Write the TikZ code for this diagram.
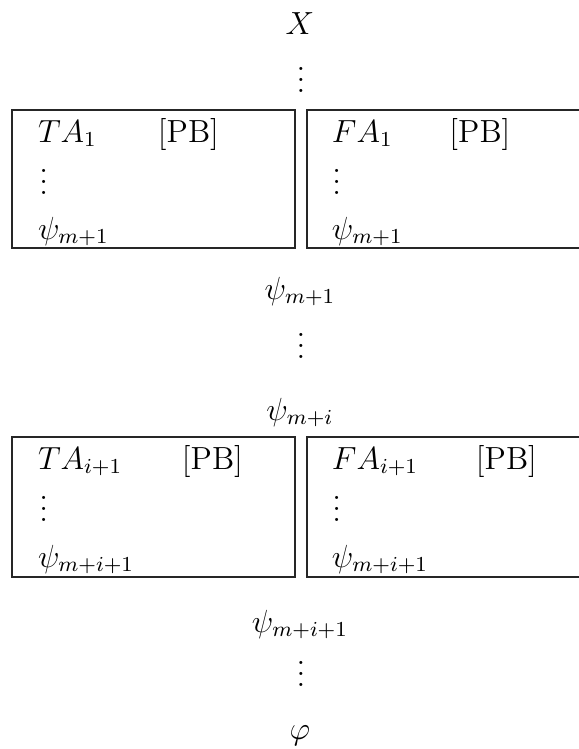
\documentclass[tikz,border=0pt]{standalone}
\newcommand{\tightvdots}{\vbox{\baselineskip4pt\lineskiplimit0pt\hbox{.}\hbox{.}\hbox{.}}}
\begin{document}
\begin{tikzpicture}[x=0.375pt, y=-0.375pt,
  every node/.style={inner sep=0pt, outer sep=0pt, font=\fontsize{12}{14.4}\selectfont},
  mid/.style={anchor=base},
  lft/.style={anchor=base west},
  frame/.style={draw=black!85, line width=0.45pt}]
\useasboundingbox (0,0) rectangle (579,749);
\clip (0,0) rectangle (579,749);
% top
\node[mid] (x) at (300,34) {$X$};
\node[mid] (d0) at (301,92) {\tightvdots};
% first pair of boxes
\draw[frame] (12,110) rectangle (295,248);
\draw[frame] (307,110) rectangle (590,248);
\node[lft] (ta1) at (38,142) {$TA_1$};
\node[lft] (pb1) at (158,142) {[PB]};
\node[lft] (dl1) at (39.5,194) {\tightvdots};
\node[lft] (psl1) at (38,239) {$\psi_{m+1}$};
\node[lft] (fa1) at (332,142) {$FA_1$};
\node[lft] (pb2) at (449.5,142) {[PB]};
\node[lft] (dr1) at (332.5,194) {\tightvdots};
\node[lft] (psr1) at (332,239) {$\psi_{m+1}$};
% middle
\node[mid] (p1) at (300,299) {$\psi_{m+1}$};
\node[mid] (d1) at (301,358) {\tightvdots};
\node[mid] (pi) at (300,420) {$\psi_{m+i}$};
% second pair of boxes
\draw[frame] (12,437) rectangle (295,577);
\draw[frame] (307,437) rectangle (590,577);
\node[lft] (ta2) at (38,469) {$TA_{i+1}$};
\node[lft] (pb3) at (182,469) {[PB]};
\node[lft] (dl2) at (39.5,521) {\tightvdots};
\node[lft] (psl2) at (38,567) {$\psi_{m+i+1}$};
\node[lft] (fa2) at (332,469) {$FA_{i+1}$};
\node[lft] (pb4) at (476,469) {[PB]};
\node[lft] (dr2) at (332.5,521) {\tightvdots};
\node[lft] (psr2) at (332,567) {$\psi_{m+i+1}$};
% bottom
\node[mid] (pi1) at (300,632) {$\psi_{m+i+1}$};
\node[mid] (d2) at (301,686) {\tightvdots};
\node[mid] (phi) at (300,739) {$\varphi$};
\end{tikzpicture}
\end{document}
